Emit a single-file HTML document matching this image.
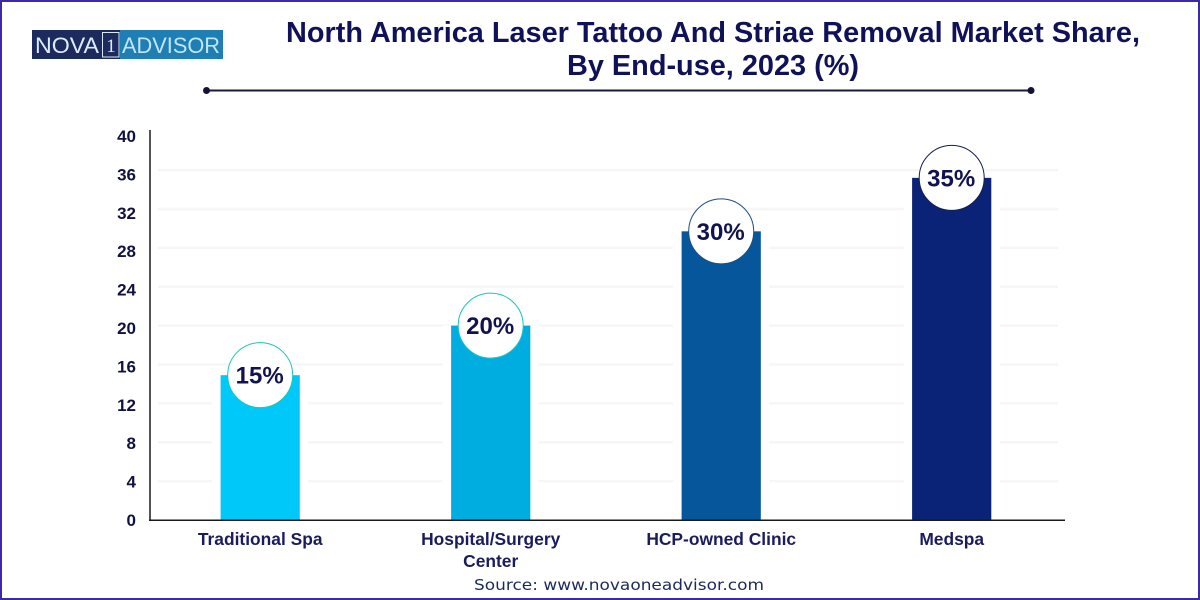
<!DOCTYPE html>
<html>
<head>
<meta charset="utf-8">
<style>
html,body{margin:0;padding:0;background:#fff}
svg{display:block}
text{font-family:"Liberation Sans",sans-serif}
</style>
</head>
<body>
<svg id="chart" width="1200" height="600" viewBox="0 0 1200 600" xmlns="http://www.w3.org/2000/svg">
  <rect x="1" y="1" width="1198" height="598" fill="#fff" stroke="#3a2aa6" stroke-width="2"/>
  <g>
    <rect x="32" y="30" width="88" height="29" fill="#1c2a5e"/>
    <rect x="120" y="30" width="103" height="29" fill="#1f7fb5"/>
    <text x="35" y="53" font-size="22" fill="#dcecfa" textLength="64" lengthAdjust="spacingAndGlyphs">NOVA</text>
    <rect x="102.500" y="32.500" width="16.500" height="24.500" fill="none" stroke="#d5ebfa" stroke-width="1"/>
    <text x="111" y="52" font-size="19" fill="#dcecfa" text-anchor="middle" style="font-family:'Liberation Serif',serif">1</text>
    <text x="122" y="53" font-size="22" fill="#bfe6fb" textLength="98" lengthAdjust="spacingAndGlyphs">ADVISOR</text>
  </g>
  <g fill="#0f1259" font-size="29" font-weight="700" text-anchor="middle">
    <text x="713" y="42" textLength="854" lengthAdjust="spacingAndGlyphs">North America Laser Tattoo And Striae Removal Market Share,</text>
    <text x="713" y="75" textLength="292" lengthAdjust="spacingAndGlyphs">By End-use, 2023 (%)</text>
  </g>
  <g>
    <line x1="206" y1="90.500" x2="1031" y2="90.500" stroke="#1a1a3a" stroke-width="2"/>
    <circle cx="206.500" cy="90.500" r="3.500" fill="#12123a"/>
    <circle cx="1031" cy="90.500" r="3.500" fill="#12123a"/>
  </g>
  <g id="grid"></g>
  <g id="bars"></g>
  <g id="ticks"></g>
  <line x1="150" y1="130" x2="150" y2="521" stroke="#1a1a1a" stroke-width="1.500"/>
  <line x1="149" y1="520.300" x2="1065" y2="520.300" stroke="#1a1a1a" stroke-width="1.500"/>
  <g id="cats"></g>
  <text x="619" y="590" font-size="15.500" fill="#1a2a5c" text-anchor="middle" textLength="290" lengthAdjust="spacingAndGlyphs" style="font-family:'DejaVu Sans',sans-serif">Source: www.novaoneadvisor.com</text>
</svg>
<script>
const categories = [["Traditional Spa"], ["Hospital/Surgery", "Center"], ["HCP-owned Clinic"], ["Medspa"]];
const shareValues = [14.9, 20, 29.7, 35.2];
const valueLabels = ["15%", "20%", "30%", "35%"];
const barColors = ["#00c9f9", "#00ade1", "#05569a", "#0a2377"];
const ringColors = ["#19c7b8", "#19c7b8", "#1d4f80", "#12204f"];
const yTicks = [0, 4, 8, 12, 16, 20, 24, 28, 32, 36, 40];

const NS = "http://www.w3.org/2000/svg";
function y(v) { return 520 - v * 9.72; }
function tickY(v) { return 520 - v * 9.6; }
function x(i) { return 260.2 + i * 230.5; }
function mk(parent, tag, attrs, text) {
  const el = document.createElementNS(NS, tag);
  for (const k in attrs) el.setAttribute(k, attrs[k]);
  if (text !== undefined) el.textContent = text;
  parent.appendChild(el);
  return el;
}
const gridG = document.getElementById("grid");
const barsG = document.getElementById("bars");
const ticksG = document.getElementById("ticks");
const catsG = document.getElementById("cats");

yTicks.forEach(function (t) {
  if (t > 0 && t < 40) {
    const g = mk(gridG, "line", { x1: 158, x2: 1058, y1: y(t), y2: y(t), stroke: "#f6f6f6", "stroke-width": 2.5 });
    
    
  }
  const lab = mk(ticksG, "text", { x: 136, y: tickY(t) + 6, "font-size": 17, "font-weight": 700, fill: "#10123f", "text-anchor": "end" }, String(t));
  
  
});

shareValues.forEach(function (v, i) {
  const cx = x(i);
  const top = y(v);
  const halo = mk(barsG, "rect", { x: cx - 48, y: top, width: 96, height: 520 - top, fill: "#fff" });
  
  
  const bar = mk(barsG, "rect", { x: cx - 39.6, y: top, width: 79.2, height: 520 - top, fill: barColors[i] });
  
  
  const circle = mk(barsG, "circle", { cx: cx, cy: top, r: 32.5, fill: "#fff", stroke: ringColors[i], "stroke-width": 1 });
  
  
  const val = mk(barsG, "text", { x: cx - 0.5, y: top + 8.5, "font-size": 24, "font-weight": 700, fill: "#11134f", "text-anchor": "middle" }, valueLabels[i]);
  
  
  categories[i].forEach(function (line, j) {
    const c = mk(catsG, "text", { x: cx, y: 545 + j * 22, "font-size": 17.4, "font-weight": 700, fill: "#1a1c5e", "text-anchor": "middle" }, line);
    
    
  });
});
</script>
</body>
</html>
